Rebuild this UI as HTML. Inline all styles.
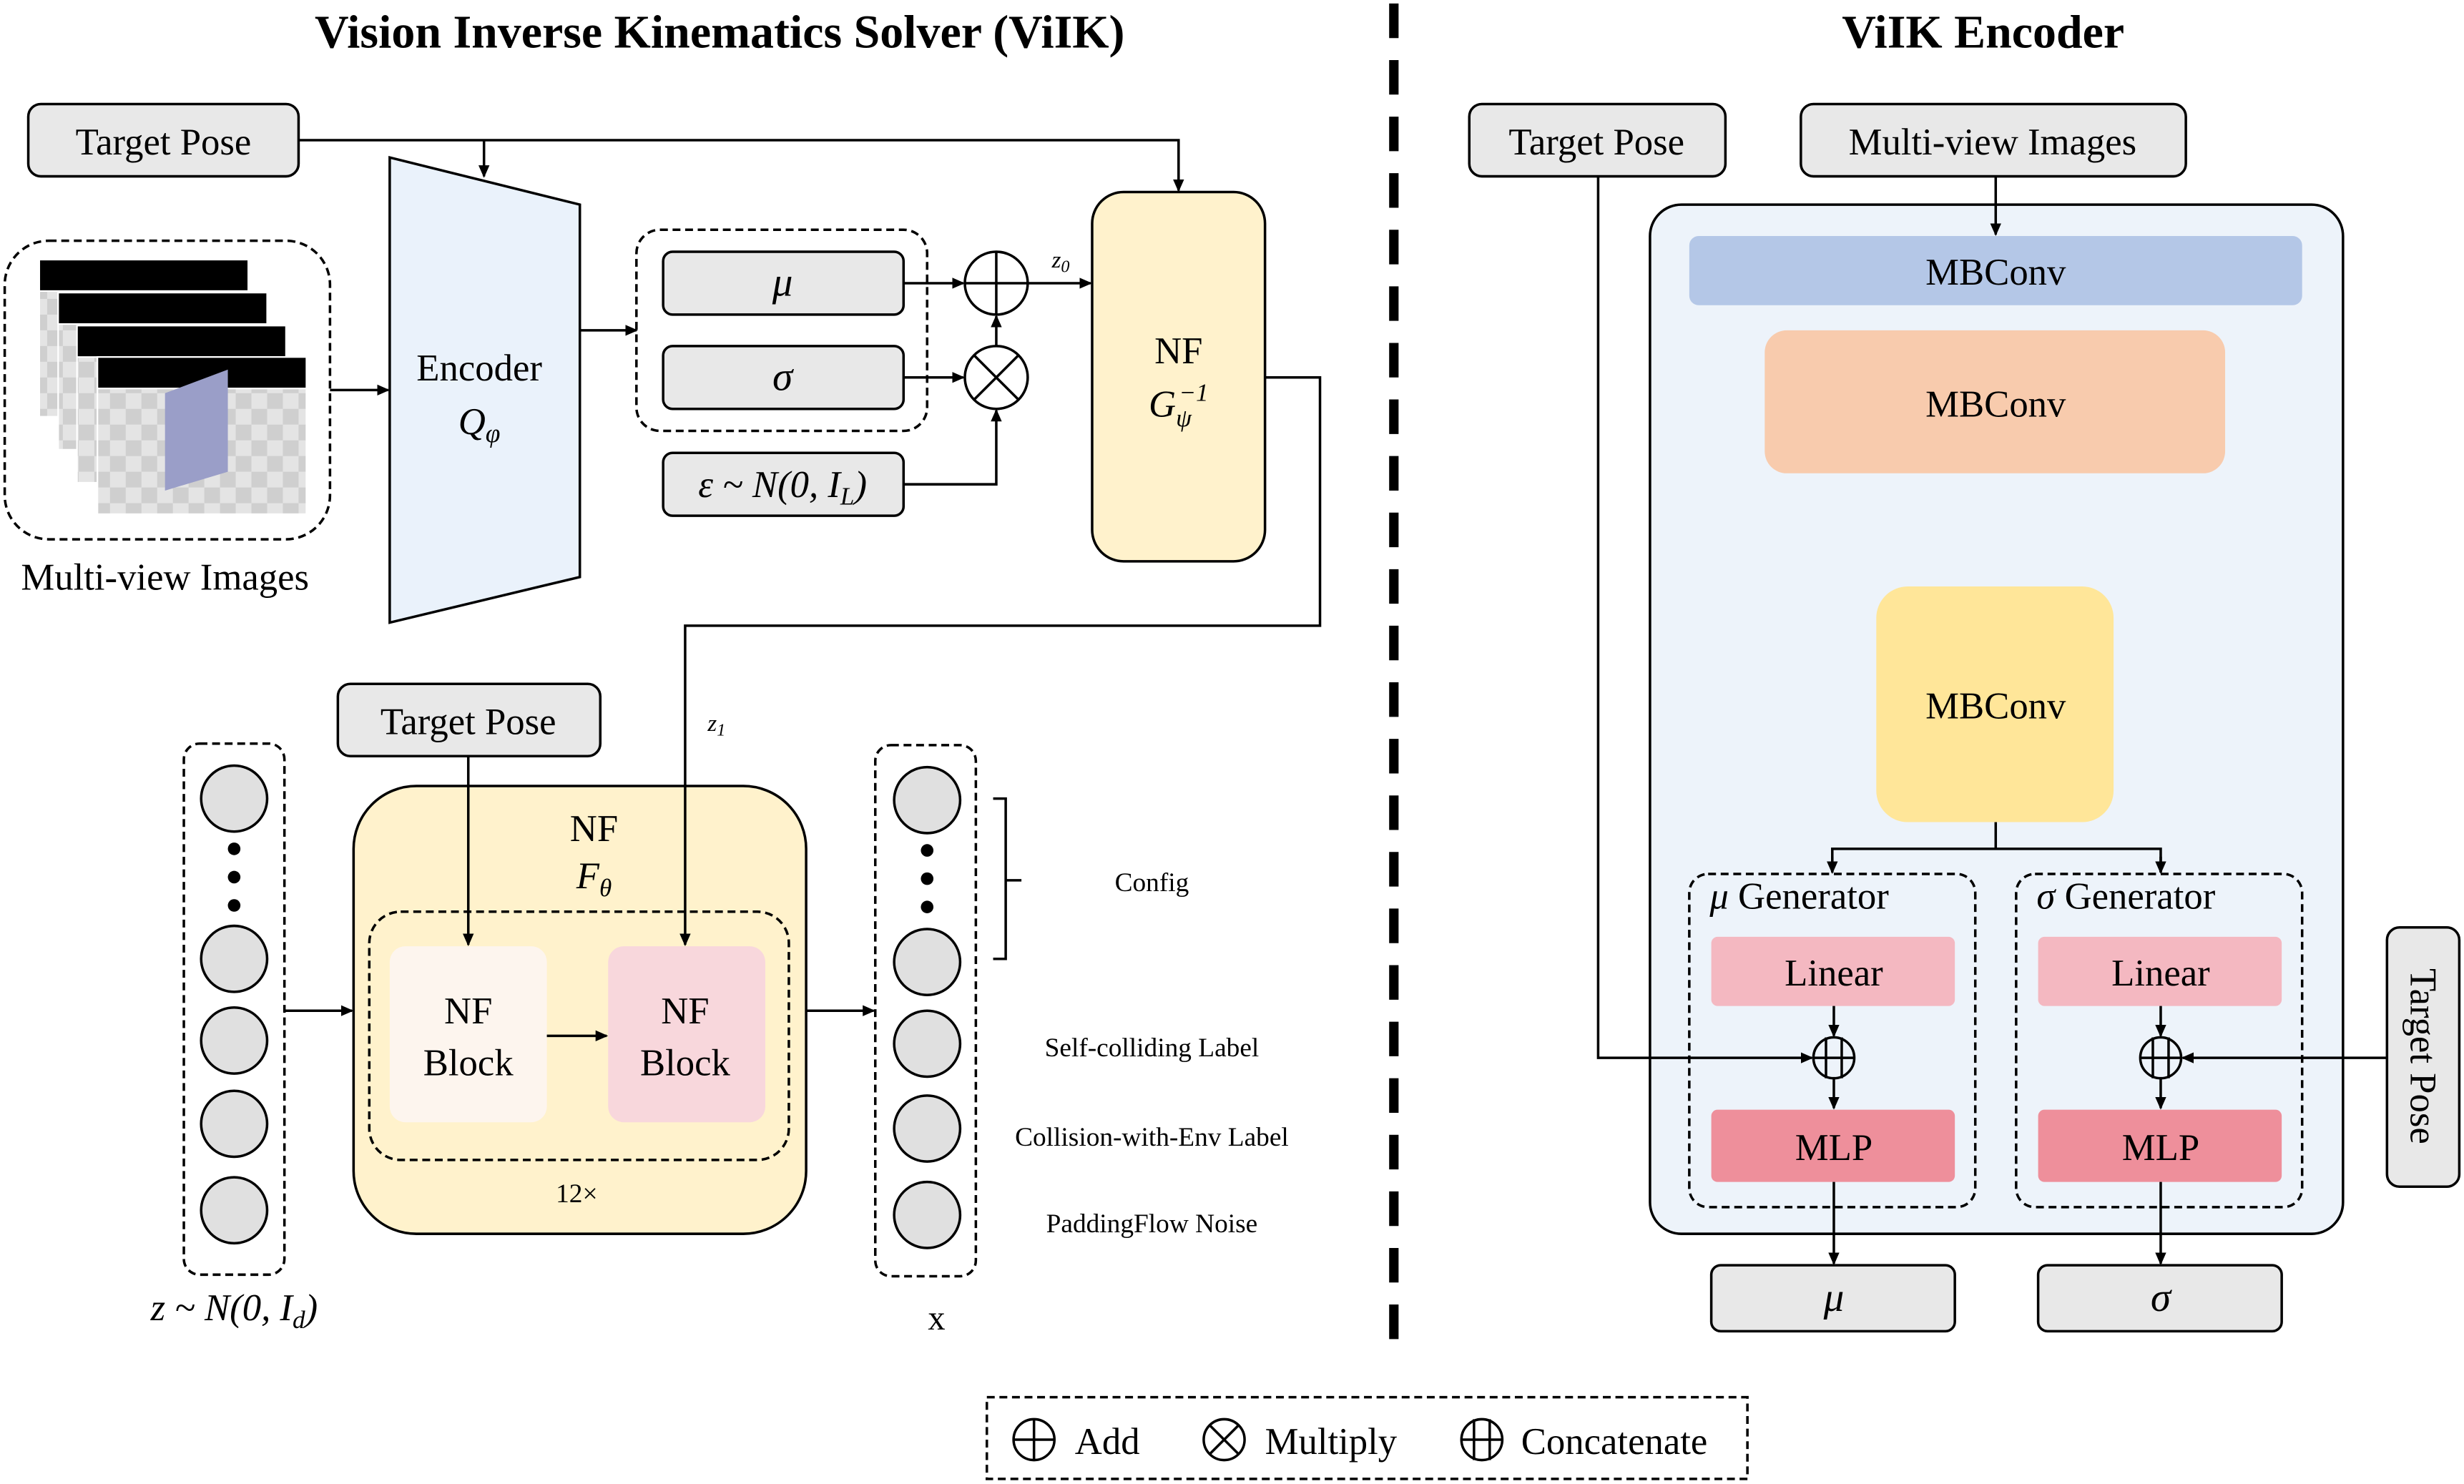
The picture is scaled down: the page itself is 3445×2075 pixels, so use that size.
<!DOCTYPE html>
<html><head><meta charset="utf-8">
<style>
html,body{margin:0;padding:0;background:#fff}
svg{display:block}
svg text{font-family:"Liberation Serif","Times New Roman",serif !important;fill:#000}
</style></head><body>
<svg width="3445" height="2075" viewBox="0 0 1568 944" xmlns="http://www.w3.org/2000/svg" font-family="Liberation Serif, serif">
<defs>
<marker id="a" markerWidth="8" markerHeight="8" refX="7" refY="4" orient="auto" markerUnits="userSpaceOnUse">
<path d="M0,0.5 L8,4 L0,7.5 Z" fill="#000"/></marker>
<pattern id="chk" width="20" height="20" patternUnits="userSpaceOnUse">
<rect width="20" height="20" fill="#e4e4e4"/><rect width="10" height="10" fill="#cfcfcf"/><rect x="10" y="10" width="10" height="10" fill="#cfcfcf"/></pattern>
</defs>
<g stroke-width="1.6" stroke="#000" fill="none">

<text x="458" y="30" font-size="30" font-weight="bold" text-anchor="middle" stroke="none">Vision Inverse Kinematics Solver (ViIK)</text>
<text x="1262" y="30" font-size="30" font-weight="bold" text-anchor="middle" stroke="none">ViIK Encoder</text>
<line x1="887" y1="2" x2="887" y2="860" stroke-width="6" stroke-dasharray="22,14"/>

<rect x="18" y="66" width="172" height="46" rx="8" fill="#e8e8e8"/>
<text x="104" y="98" font-size="24" text-anchor="middle" stroke="none">Target Pose</text>
<polyline points="190,89 750,89 750,121" marker-end="url(#a)"/>
<line x1="308" y1="89" x2="308" y2="112" marker-end="url(#a)"/>

<rect x="3" y="153" width="207" height="190" rx="28" stroke-dasharray="5,3"/>
<g stroke="#fff" stroke-width="1">
<rect x="25" y="165" width="133" height="100" fill="url(#chk)"/><rect x="25" y="165" width="133" height="20" fill="#000"/>
<rect x="37" y="186" width="133" height="100" fill="url(#chk)"/><rect x="37" y="186" width="133" height="20" fill="#000"/>
<rect x="49" y="207" width="133" height="100" fill="url(#chk)"/><rect x="49" y="207" width="133" height="20" fill="#000"/>
<rect x="62" y="227" width="133" height="100" fill="url(#chk)"/><rect x="62" y="227" width="133" height="20" fill="#000"/>
</g>
<polygon points="105,250 145,235 145,300 105,312" fill="#9a9ec8" stroke="none"/>
<text x="105" y="375" font-size="24" text-anchor="middle" stroke="none">Multi-view Images</text>
<line x1="210" y1="248" x2="247" y2="248" marker-end="url(#a)"/>

<polygon points="248,100 369,130 369,367 248,396" fill="#eaf2fb"/>
<text x="305" y="242" font-size="24" text-anchor="middle" stroke="none">Encoder</text>
<text x="305" y="276" font-size="24" font-style="italic" text-anchor="middle" stroke="none">Q<tspan font-size="17" dy="5">φ</tspan></text>
<line x1="369" y1="210" x2="405" y2="210" marker-end="url(#a)"/>

<rect x="405" y="146" width="185" height="128" rx="15" stroke-dasharray="5,3"/>
<rect x="422" y="160" width="153" height="40" rx="6" fill="#e8e8e8"/>
<text x="498" y="188" font-size="26" font-style="italic" text-anchor="middle" stroke="none">μ</text>
<rect x="422" y="220" width="153" height="40" rx="6" fill="#e8e8e8"/>
<text x="498" y="248" font-size="26" font-style="italic" text-anchor="middle" stroke="none">σ</text>
<rect x="422" y="288" width="153" height="40" rx="6" fill="#e8e8e8"/>
<text x="498" y="316" font-size="24" font-style="italic" text-anchor="middle" stroke="none">ε ~ N(0, I<tspan font-size="16" dy="5">L</tspan><tspan dy="-5">)</tspan></text>

<circle cx="634" cy="180" r="20"/><line x1="614" y1="180" x2="654" y2="180"/><line x1="634" y1="160" x2="634" y2="200"/>
<circle cx="634" cy="240" r="20"/><line x1="620" y1="226" x2="648" y2="254"/><line x1="648" y1="226" x2="620" y2="254"/>
<line x1="575" y1="180" x2="613" y2="180" marker-end="url(#a)"/>
<line x1="575" y1="240" x2="613" y2="240" marker-end="url(#a)"/>
<polyline points="575,308 634,308 634,261" marker-end="url(#a)"/>
<line x1="634" y1="220" x2="634" y2="201" marker-end="url(#a)"/>
<line x1="654" y1="180" x2="694" y2="180" marker-end="url(#a)"/>
<text x="675" y="170" font-size="15" font-style="italic" text-anchor="middle" stroke="none">z<tspan font-size="11" dy="3">0</tspan></text>

<rect x="695" y="122" width="110" height="235" rx="20" fill="#fff2cc"/>
<text x="750" y="231" font-size="24" text-anchor="middle" stroke="none">NF</text>
<text x="750" y="265" font-size="24" font-style="italic" text-anchor="middle" stroke="none">G<tspan font-size="16" dy="6">ψ</tspan><tspan font-size="16" dx="-8" dy="-16">−1</tspan></text>
<text x="456" y="465" font-size="15" font-style="italic" text-anchor="middle" stroke="none">z<tspan font-size="11" dy="3">1</tspan></text>

<rect x="215" y="435" width="167" height="46" rx="8" fill="#e8e8e8"/>
<text x="298" y="467" font-size="24" text-anchor="middle" stroke="none">Target Pose</text>

<rect x="225" y="500" width="288" height="285" rx="40" fill="#fff2cc"/>
<text x="378" y="535" font-size="24" text-anchor="middle" stroke="none">NF</text>
<text x="378" y="565" font-size="24" font-style="italic" text-anchor="middle" stroke="none">F<tspan font-size="16" dy="5">θ</tspan></text>
<rect x="235" y="580" width="267" height="158" rx="20" stroke-dasharray="5,3"/>
<rect x="248" y="602" width="100" height="112" rx="10" fill="#fdf5ee" stroke="none"/>
<rect x="387" y="602" width="100" height="112" rx="10" fill="#f8d7dc" stroke="none"/>
<text x="298" y="651" font-size="24" text-anchor="middle" stroke="none">NF</text>
<text x="298" y="684" font-size="24" text-anchor="middle" stroke="none">Block</text>
<text x="436" y="651" font-size="24" text-anchor="middle" stroke="none">NF</text>
<text x="436" y="684" font-size="24" text-anchor="middle" stroke="none">Block</text>
<line x1="298" y1="481" x2="298" y2="601" marker-end="url(#a)"/>
<line x1="348" y1="659" x2="386" y2="659" marker-end="url(#a)"/>
<polyline points="805,240 840,240 840,398 436,398 436,601" marker-end="url(#a)"/>
<text x="367" y="765" font-size="17" text-anchor="middle" stroke="none">12×</text>

<rect x="117" y="473" width="64" height="338" rx="10" stroke-dasharray="5,3"/>
<g fill="#e0e0e0">
<circle cx="149" cy="508" r="21"/><circle cx="149" cy="610" r="21"/><circle cx="149" cy="662" r="21"/><circle cx="149" cy="715" r="21"/><circle cx="149" cy="770" r="21"/>
<circle cx="590" cy="509" r="21"/><circle cx="590" cy="612" r="21"/><circle cx="590" cy="664" r="21"/><circle cx="590" cy="718" r="21"/><circle cx="590" cy="773" r="21"/>
</g>
<g fill="#000" stroke="none">
<circle cx="149" cy="540" r="4"/><circle cx="149" cy="558" r="4"/><circle cx="149" cy="576" r="4"/>
<circle cx="590" cy="541" r="4"/><circle cx="590" cy="559" r="4"/><circle cx="590" cy="577" r="4"/>
<circle cx="1270" cy="320" r="4.5"/><circle cx="1270" cy="338" r="4.5"/><circle cx="1270" cy="356" r="4.5"/>
</g>
<text x="149" y="840" font-size="24" font-style="italic" text-anchor="middle" stroke="none">z ~ N(0, I<tspan font-size="16" dy="5">d</tspan><tspan dy="-5">)</tspan></text>
<line x1="181" y1="643" x2="224" y2="643" marker-end="url(#a)"/>
<line x1="513" y1="643" x2="556" y2="643" marker-end="url(#a)"/>

<rect x="557" y="474" width="64" height="338" rx="10" stroke-dasharray="5,3"/>
<text x="596" y="846" font-size="22" text-anchor="middle" stroke="none">x</text>
<path d="M632,508 L640,508 L640,560 L650,560 M640,560 L640,610 L632,610"/>
<g font-size="17" text-anchor="middle">
<text x="733" y="567" stroke="none">Config</text>
<text x="733" y="672" stroke="none">Self-colliding Label</text>
<text x="733" y="729" stroke="none">Collision-with-Env Label</text>
<text x="733" y="784" stroke="none">PaddingFlow Noise</text>
</g>

<rect x="1050" y="130" width="441" height="655" rx="20" fill="#edf3fa"/>
<rect x="935" y="66" width="163" height="46" rx="8" fill="#e8e8e8"/>
<text x="1016" y="98" font-size="24" text-anchor="middle" stroke="none">Target Pose</text>
<rect x="1146" y="66" width="245" height="46" rx="8" fill="#e8e8e8"/>
<text x="1268" y="98" font-size="24" text-anchor="middle" stroke="none">Multi-view Images</text>
<line x1="1270" y1="112" x2="1270" y2="149" marker-end="url(#a)"/>
<rect x="1075" y="150" width="390" height="44" rx="6" fill="#b4c7e7" stroke="none"/>
<text x="1270" y="181" font-size="24" text-anchor="middle" stroke="none">MBConv</text>
<rect x="1123" y="210" width="293" height="91" rx="14" fill="#f8cbad" stroke="none"/>
<text x="1270" y="265" font-size="24" text-anchor="middle" stroke="none">MBConv</text>
<rect x="1194" y="373" width="151" height="150" rx="20" fill="#ffe699" stroke="none"/>
<text x="1270" y="457" font-size="24" text-anchor="middle" stroke="none">MBConv</text>
<polyline points="1270,523 1270,540"/>
<polyline points="1166,555 1166,540 1375,540 1375,555"/>
<line x1="1166" y1="545" x2="1166" y2="555" marker-end="url(#a)"/>
<line x1="1375" y1="545" x2="1375" y2="555" marker-end="url(#a)"/>

<rect x="1075" y="556" width="182" height="212" rx="12" stroke-dasharray="5,3"/>
<rect x="1283" y="556" width="182" height="212" rx="12" stroke-dasharray="5,3"/>
<text x="1088" y="578" font-size="24" stroke="none"><tspan font-style="italic">μ</tspan> Generator</text>
<text x="1296" y="578" font-size="24" stroke="none"><tspan font-style="italic">σ</tspan> Generator</text>
<rect x="1089" y="596" width="155" height="44" rx="4" fill="#f4b8c1" stroke="none"/>
<rect x="1297" y="596" width="155" height="44" rx="4" fill="#f4b8c1" stroke="none"/>
<text x="1167" y="627" font-size="24" text-anchor="middle" stroke="none">Linear</text>
<text x="1375" y="627" font-size="24" text-anchor="middle" stroke="none">Linear</text>
<rect x="1089" y="706" width="155" height="46" rx="4" fill="#ee8f9b" stroke="none"/>
<rect x="1297" y="706" width="155" height="46" rx="4" fill="#ee8f9b" stroke="none"/>
<text x="1167" y="738" font-size="24" text-anchor="middle" stroke="none">MLP</text>
<text x="1375" y="738" font-size="24" text-anchor="middle" stroke="none">MLP</text>
<g>
<circle cx="1167" cy="673" r="13"/><line x1="1154" y1="673" x2="1180" y2="673"/><line x1="1162" y1="660" x2="1162" y2="686"/><line x1="1172" y1="660" x2="1172" y2="686"/>
<circle cx="1375" cy="673" r="13"/><line x1="1362" y1="673" x2="1388" y2="673"/><line x1="1370" y1="660" x2="1370" y2="686"/><line x1="1380" y1="660" x2="1380" y2="686"/>
</g>
<line x1="1167" y1="640" x2="1167" y2="659" marker-end="url(#a)"/>
<line x1="1375" y1="640" x2="1375" y2="659" marker-end="url(#a)"/>
<line x1="1167" y1="686" x2="1167" y2="705" marker-end="url(#a)"/>
<line x1="1375" y1="686" x2="1375" y2="705" marker-end="url(#a)"/>
<polyline points="1017,112 1017,673 1153,673" marker-end="url(#a)"/>
<rect x="1519" y="590" width="46" height="165" rx="8" fill="#e8e8e8"/>
<text x="0" y="0" font-size="24" text-anchor="middle" stroke="none" transform="translate(1534,672) rotate(90)">Target Pose</text>
<line x1="1519" y1="673" x2="1389" y2="673" marker-end="url(#a)"/>
<line x1="1167" y1="752" x2="1167" y2="804" marker-end="url(#a)"/>
<line x1="1375" y1="752" x2="1375" y2="804" marker-end="url(#a)"/>
<rect x="1089" y="805" width="155" height="42" rx="6" fill="#e8e8e8"/>
<rect x="1297" y="805" width="155" height="42" rx="6" fill="#e8e8e8"/>
<text x="1167" y="834" font-size="26" font-style="italic" text-anchor="middle" stroke="none">μ</text>
<text x="1375" y="834" font-size="26" font-style="italic" text-anchor="middle" stroke="none">σ</text>

<rect x="628" y="889" width="484" height="52" stroke-dasharray="5,3"/>
<circle cx="658" cy="916" r="13"/><line x1="645" y1="916" x2="671" y2="916"/><line x1="658" y1="903" x2="658" y2="929"/>
<text x="684" y="925" font-size="24" stroke="none">Add</text>
<circle cx="779" cy="916" r="13"/><line x1="770" y1="907" x2="788" y2="925"/><line x1="788" y1="907" x2="770" y2="925"/>
<text x="805" y="925" font-size="24" stroke="none">Multiply</text>
<circle cx="943" cy="916" r="13"/><line x1="930" y1="916" x2="956" y2="916"/><line x1="938" y1="903" x2="938" y2="929"/><line x1="948" y1="903" x2="948" y2="929"/>
<text x="968" y="925" font-size="24" stroke="none">Concatenate</text>
</g>
</svg>
</body></html>
